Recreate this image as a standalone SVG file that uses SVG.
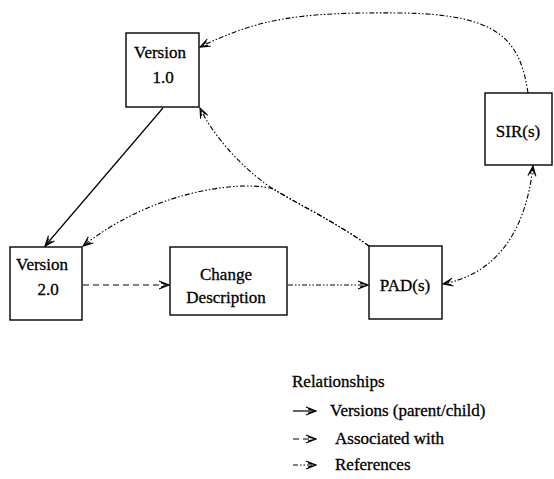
<svg xmlns="http://www.w3.org/2000/svg" width="554" height="479" viewBox="0 0 554 479">
  <style>
    .box { fill: #fff; stroke: #000; stroke-width: 1.4; }
    .mid { text-anchor: middle; }
    .solid { fill: none; stroke: #000; stroke-width: 1.2; }
    .assoc { fill: none; stroke: #000; stroke-width: 1.2; stroke-dasharray: 6 4; }
    .ref { fill: none; stroke: #000; stroke-width: 1.1; stroke-dasharray: 5 2 1.5 2 1.5 2; }
  </style>
  <defs>
    <marker id="head" markerWidth="12" markerHeight="10" refX="11" refY="5" orient="auto" markerUnits="userSpaceOnUse">
      <path d="M1,1 L11,5 L1,9 M3,3 L11,5 L3,7" fill="none" stroke="#000" stroke-width="1.1"/>
    </marker>
    <marker id="headStart" markerWidth="12" markerHeight="10" refX="1" refY="5" orient="auto" markerUnits="userSpaceOnUse">
      <path d="M11,1 L1,5 L11,9 M9,3 L1,5 L9,7" fill="none" stroke="#000" stroke-width="1.1"/>
    </marker>
  </defs>

  <!-- connectors -->
  <g id="connectors">
    <!-- version lineage -->
    <path class="solid" d="M163,108 L45,246" marker-end="url(#head)"/>
    <!-- association -->
    <path class="assoc" d="M83,285 L169,285" marker-end="url(#head)"/>
    <!-- references -->
    <path class="ref" d="M288,285 L368,285" marker-end="url(#head)"/>
    <path class="ref" d="M369,246 C340,225 300,205 275,190 S215,140 200,108" marker-end="url(#head)"/>
    <path class="ref" d="M369,246 C340,225 300,205 275,190 C255,180 160,185 83,246" marker-end="url(#head)"/>
    <path class="ref" d="M528,93 C520,40 500,14 400,13 C300,12 260,18 200,47" marker-end="url(#head)"/>
    <path class="ref" d="M533,166 C525,240 490,275 443,284" marker-start="url(#headStart)" marker-end="url(#head)"/>
  </g>

  <g font-family="Liberation Serif, Times New Roman, serif" font-size="17" fill="#000" stroke="#000" stroke-width="0.3">
    <g id="version1">
      <rect class="box" x="126" y="33" width="73" height="74"/>
      <text class="mid" x="160" y="58">Version</text>
      <text class="mid" x="163" y="83">1.0</text>
    </g>

    <g id="version2">
      <rect class="box" x="10" y="247" width="72" height="73"/>
      <text class="mid" x="42" y="270">Version</text>
      <text class="mid" x="48" y="295">2.0</text>
    </g>

    <g id="change-description">
      <rect class="box" x="170" y="247" width="117" height="68"/>
      <text class="mid" x="226" y="280">Change</text>
      <text class="mid" x="226" y="303">Description</text>
    </g>

    <g id="pads">
      <rect class="box" x="369" y="246" width="73" height="73"/>
      <text class="mid" x="405" y="291">PAD(s)</text>
    </g>

    <g id="sirs">
      <rect class="box" x="485" y="93" width="67" height="72"/>
      <text class="mid" x="518" y="137">SIR(s)</text>
    </g>

    <g id="legend">
      <text x="292" y="387">Relationships</text>
      <path class="solid" d="M293,411 L316,411" marker-end="url(#head)"/>
      <text x="330" y="416">Versions (parent/child)</text>
      <path class="assoc" d="M293,439 L316,439" marker-end="url(#head)"/>
      <text x="335" y="444">Associated with</text>
      <path class="ref" d="M293,465 L316,465" marker-end="url(#head)"/>
      <text x="335" y="470">References</text>
    </g>
  </g>
</svg>
